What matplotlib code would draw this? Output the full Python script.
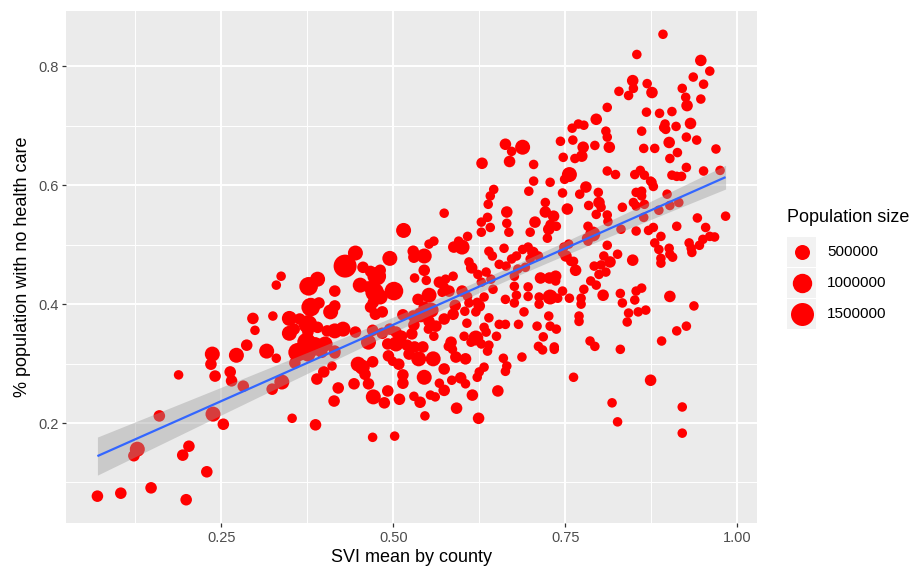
import numpy as np
import matplotlib
matplotlib.use("Agg")
import matplotlib.pyplot as plt
from matplotlib.patches import Rectangle

# SVI mean by county (x), share without health care (y), population in thousands
svi = [
    0.663, 0.672, 0.688, 0.669, 0.629, 0.892, 0.854, 0.947, 0.960, 0.848,
    0.869, 0.828, 0.849, 0.842, 0.876, 0.936, 0.951, 0.920, 0.925, 0.947,
    0.927, 0.811, 0.905, 0.868, 0.887, 0.795, 0.769, 0.777, 0.760, 0.895,
    0.893, 0.911, 0.932, 0.809, 0.861, 0.811, 0.896, 0.926, 0.743, 0.761,
    0.901, 0.941, 0.793, 0.776, 0.814, 0.864, 0.880, 0.969, 0.913, 0.774,
    0.747, 0.764, 0.902, 0.704, 0.926, 0.756, 0.811, 0.823, 0.851, 0.859,
    0.865, 0.905, 0.912, 0.919, 0.951, 0.975, 0.704, 0.728, 0.749, 0.874,
    0.337, 0.330, 0.296, 0.325, 0.299, 0.349, 0.349, 0.287, 0.316, 0.237,
    0.272, 0.235, 0.330, 0.188, 0.241, 0.263, 0.265, 0.282, 0.324, 0.338,
    0.357, 0.160, 0.238, 0.253, 0.353, 0.203, 0.194, 0.128, 0.123, 0.229,
    0.070, 0.104, 0.148, 0.199,
    0.387, 0.470, 0.502, 0.414, 0.420, 0.443, 0.471, 0.487, 0.464, 0.492,
    0.509, 0.530, 0.539, 0.546, 0.554, 0.561, 0.574, 0.592, 0.615, 0.624,
    0.652, 0.567, 0.585, 0.598, 0.605, 0.622, 0.625, 0.663, 0.665, 0.660,
    0.687, 0.632, 0.574, 0.545, 0.514, 0.514, 0.499, 0.455, 0.459, 0.389,
    0.399, 0.411,
    0.762, 0.874, 0.818, 0.920, 0.826, 0.920, 0.717, 0.734, 0.830,
    0.983, 0.942, 0.954, 0.950, 0.960, 0.967, 0.945, 0.930, 0.933, 0.934,
    0.912, 0.898, 0.902, 0.915, 0.878, 0.871, 0.889, 0.880, 0.886, 0.901,
    0.902, 0.906, 0.889, 0.889, 0.848, 0.861, 0.853, 0.851, 0.902, 0.937,
    0.867, 0.856, 0.842, 0.840, 0.926, 0.912, 0.890,
    0.833, 0.830, 0.805, 0.786, 0.793, 0.770, 0.770, 0.773, 0.773, 0.777,
    0.756, 0.746, 0.787, 0.795, 0.799, 0.809, 0.792, 0.802, 0.815, 0.806,
    0.826, 0.811, 0.765, 0.762, 0.758, 0.751, 0.746, 0.755, 0.748, 0.783,
    0.781, 0.790, 0.783, 0.812, 0.811, 0.831, 0.853, 0.864, 0.833, 0.849,
    0.853, 0.865, 0.886, 0.853, 0.861, 0.861, 0.876, 0.878, 0.798, 0.784,
    0.799, 0.802, 0.795, 0.771, 0.780, 0.746, 0.753, 0.721, 0.721, 0.733,
    0.737, 0.728, 0.706, 0.699, 0.724, 0.726,
    0.697, 0.696, 0.703, 0.711, 0.699, 0.692, 0.714, 0.727, 0.736, 0.736,
    0.696, 0.696, 0.712, 0.712, 0.728, 0.739, 0.726, 0.709, 0.728, 0.737,
    0.718, 0.711, 0.734,
    0.646, 0.641, 0.638, 0.665, 0.665, 0.668, 0.637, 0.628, 0.641, 0.628,
    0.574, 0.515, 0.559, 0.552, 0.595, 0.608, 0.588, 0.600, 0.529, 0.530,
    0.545, 0.639, 0.644, 0.661, 0.672, 0.679, 0.654, 0.664, 0.688, 0.610,
    0.614, 0.623, 0.635, 0.642, 0.676, 0.681, 0.445, 0.430, 0.456, 0.467,
    0.481, 0.495, 0.545, 0.531, 0.548, 0.587, 0.576, 0.567, 0.574, 0.571,
    0.581, 0.600, 0.628, 0.645, 0.632, 0.622, 0.610, 0.608, 0.676, 0.679,
    0.663, 0.676, 0.690, 0.552, 0.536, 0.545, 0.555, 0.540, 0.529, 0.552,
    0.562, 0.551, 0.574, 0.587, 0.590, 0.604, 0.620, 0.625, 0.607, 0.639,
    0.654, 0.663, 0.682, 0.632, 0.635, 0.650, 0.620, 0.613, 0.628, 0.639,
    0.603, 0.584, 0.580, 0.559, 0.527, 0.512, 0.514, 0.530, 0.504, 0.520,
    0.531, 0.543, 0.476, 0.501, 0.473, 0.452, 0.464, 0.481, 0.471, 0.484,
    0.474, 0.467, 0.415, 0.377, 0.390, 0.380, 0.392, 0.409, 0.415, 0.364,
    0.376, 0.376, 0.390, 0.404, 0.415, 0.427, 0.445, 0.374, 0.386, 0.401,
    0.415, 0.470, 0.484, 0.495, 0.504, 0.464, 0.492, 0.356,
    0.361, 0.376, 0.396, 0.415, 0.449, 0.470, 0.523, 0.537, 0.558, 0.591,
    0.605, 0.493, 0.508, 0.637, 0.586,
]

no_health_care = [
    0.669, 0.657, 0.664, 0.640, 0.637, 0.854, 0.820, 0.810, 0.792, 0.776,
    0.771, 0.758, 0.763, 0.751, 0.756, 0.782, 0.770, 0.763, 0.748, 0.745,
    0.734, 0.731, 0.724, 0.723, 0.721, 0.711, 0.703, 0.701, 0.696, 0.703,
    0.697, 0.699, 0.704, 0.691, 0.691, 0.681, 0.694, 0.681, 0.674, 0.676,
    0.672, 0.676, 0.667, 0.664, 0.664, 0.662, 0.662, 0.661, 0.655, 0.649,
    0.647, 0.645, 0.645, 0.635, 0.630, 0.618, 0.624, 0.618, 0.618, 0.625,
    0.617, 0.617, 0.615, 0.615, 0.624, 0.625, 0.607, 0.605, 0.610, 0.607,
    0.447, 0.432, 0.376, 0.380, 0.356, 0.376, 0.351, 0.331, 0.321, 0.316,
    0.314, 0.299, 0.309, 0.281, 0.279, 0.286, 0.271, 0.262, 0.257, 0.269,
    0.301, 0.212, 0.215, 0.198, 0.208, 0.161, 0.146, 0.156, 0.145, 0.118,
    0.077, 0.082, 0.091, 0.071,
    0.197, 0.176, 0.178, 0.237, 0.259, 0.266, 0.244, 0.234, 0.266, 0.254,
    0.240, 0.245, 0.235, 0.212, 0.247, 0.244, 0.255, 0.225, 0.247, 0.208,
    0.254, 0.267, 0.272, 0.276, 0.266, 0.277, 0.286, 0.287, 0.296, 0.309,
    0.311, 0.294, 0.291, 0.277, 0.267, 0.281, 0.304, 0.294, 0.282, 0.274,
    0.286, 0.296,
    0.277, 0.272, 0.234, 0.227, 0.202, 0.183, 0.323, 0.324, 0.324,
    0.548, 0.545, 0.529, 0.509, 0.514, 0.513, 0.499, 0.503, 0.494, 0.487,
    0.531, 0.585, 0.566, 0.571, 0.529, 0.524, 0.514, 0.503, 0.492, 0.494,
    0.484, 0.479, 0.477, 0.469, 0.474, 0.427, 0.422, 0.407, 0.413, 0.397,
    0.390, 0.387, 0.385, 0.370, 0.363, 0.355, 0.338,
    0.402, 0.418, 0.415, 0.338, 0.329, 0.380, 0.371, 0.410, 0.400, 0.425,
    0.410, 0.422, 0.439, 0.432, 0.450, 0.454, 0.464, 0.466, 0.471, 0.481,
    0.484, 0.499, 0.457, 0.472, 0.472, 0.481, 0.487, 0.501, 0.496, 0.506,
    0.511, 0.518, 0.531, 0.539, 0.550, 0.526, 0.523, 0.546, 0.563, 0.571,
    0.565, 0.568, 0.558, 0.588, 0.590, 0.582, 0.605, 0.598, 0.588, 0.566,
    0.571, 0.563, 0.551, 0.585, 0.597, 0.587, 0.560, 0.571, 0.555, 0.548,
    0.531, 0.534, 0.538, 0.521, 0.511, 0.526,
    0.590, 0.496, 0.487, 0.481, 0.476, 0.462, 0.444, 0.444, 0.447, 0.439,
    0.429, 0.413, 0.412, 0.400, 0.412, 0.410, 0.380, 0.363, 0.363, 0.358,
    0.345, 0.329, 0.328,
    0.593, 0.582, 0.568, 0.555, 0.536, 0.521, 0.546, 0.538, 0.529, 0.521,
    0.553, 0.524, 0.506, 0.501, 0.506, 0.514, 0.496, 0.496, 0.489, 0.479,
    0.481, 0.489, 0.481, 0.494, 0.476, 0.481, 0.467, 0.464, 0.492, 0.471,
    0.461, 0.450, 0.454, 0.442, 0.447, 0.459, 0.486, 0.464, 0.462, 0.455,
    0.457, 0.477, 0.457, 0.444, 0.440, 0.447, 0.442, 0.437, 0.429, 0.420,
    0.422, 0.422, 0.437, 0.425, 0.412, 0.403, 0.402, 0.413, 0.430, 0.415,
    0.408, 0.402, 0.387, 0.415, 0.408, 0.395, 0.390, 0.382, 0.380, 0.371,
    0.363, 0.358, 0.375, 0.383, 0.398, 0.388, 0.387, 0.397, 0.368, 0.377,
    0.366, 0.366, 0.366, 0.361, 0.353, 0.346, 0.343, 0.336, 0.333, 0.331,
    0.346, 0.336, 0.329, 0.346, 0.350, 0.346, 0.382, 0.365, 0.333, 0.331,
    0.328, 0.328, 0.447, 0.422, 0.420, 0.432, 0.429, 0.412, 0.403, 0.387,
    0.383, 0.395, 0.422, 0.430, 0.442, 0.395, 0.402, 0.387, 0.397, 0.375,
    0.366, 0.353, 0.361, 0.355, 0.355, 0.358, 0.353, 0.336, 0.329, 0.333,
    0.321, 0.356, 0.351, 0.358, 0.353, 0.336, 0.333, 0.358,
    0.319, 0.316, 0.319, 0.318, 0.299, 0.303, 0.316, 0.308, 0.308, 0.311,
    0.308, 0.313, 0.299, 0.321, 0.324,
]

pop_thousands = [
    200, 60, 500, 200, 200, 60, 60, 200, 60, 200,
    60, 60, 60, 60, 200, 60, 60, 60, 60, 60,
    200, 60, 60, 60, 60, 200, 60, 60, 60, 60,
    60, 60, 200, 60, 60, 60, 60, 60, 60, 60,
    200, 60, 60, 200, 200, 60, 60, 60, 60, 200,
    60, 60, 60, 60, 60, 500, 60, 60, 60, 60,
    60, 60, 60, 60, 60, 60, 60, 60, 60, 60,
    60, 60, 200, 60, 60, 500, 500, 200, 500, 500,
    500, 200, 60, 60, 200, 200, 200, 200, 200, 500,
    200, 200, 500, 200, 60, 200, 200, 500, 200, 200,
    200, 200, 200, 200,
    200, 60, 60, 200, 200, 200, 500, 200, 200, 200,
    200, 60, 200, 60, 60, 60, 200, 200, 200, 200,
    200, 60, 60, 200, 60, 60, 60, 60, 60, 60,
    60, 60, 200, 500, 200, 200, 60, 500, 200, 200,
    200, 60,
    60, 200, 60, 60, 60, 60, 60, 60, 60,
    60, 60, 60, 60, 60, 60, 60, 60, 60, 60,
    60, 60, 60, 60, 60, 60, 60, 60, 60, 60,
    60, 60, 60, 60, 200, 60, 60, 60, 200, 60,
    60, 60, 60, 60, 60, 60, 60,
    60, 60, 200, 60, 60, 60, 60, 60, 60, 60,
    60, 60, 60, 60, 60, 60, 60, 60, 200, 60,
    60, 60, 200, 60, 60, 200, 60, 60, 60, 60,
    60, 500, 60, 60, 60, 60, 60, 60, 60, 60,
    60, 60, 60, 60, 60, 60, 60, 60, 60, 60,
    200, 60, 60, 60, 200, 60, 200, 60, 200, 200,
    60, 60, 200, 60, 60, 200,
    60, 60, 200, 60, 60, 60, 200, 200, 200, 60,
    60, 60, 60, 60, 500, 60, 60, 60, 60, 60,
    60, 60, 60,
    60, 60, 60, 200, 60, 60, 60, 60, 60, 60,
    60, 500, 60, 60, 60, 60, 200, 500, 200, 200,
    500, 60, 60, 60, 60, 60, 60, 60, 60, 60,
    200, 60, 60, 60, 60, 60, 500, 1500, 200, 200,
    200, 500, 200, 60, 60, 60, 60, 200, 60, 60,
    200, 200, 60, 60, 60, 60, 60, 60, 60, 60,
    60, 60, 60, 500, 200, 200, 500, 500, 200, 200,
    200, 60, 200, 200, 200, 60, 60, 200, 60, 60,
    60, 60, 60, 60, 60, 60, 500, 60, 60, 60,
    60, 200, 60, 60, 200, 200, 200, 200, 500, 200,
    200, 200, 900, 900, 900, 500, 200, 500, 200, 200,
    200, 200, 200, 900, 500, 900, 200, 500, 200, 200,
    900, 200, 200, 200, 500, 500, 200, 900, 900, 500,
    200, 200, 200, 200, 200, 500, 200, 200,
    900, 500, 200, 200, 500, 200, 200, 500, 500, 200,
    200, 200, 200, 60, 60,
]

legend_pops = [500000, 1000000, 1500000]
legend_labels = ["500000", "1000000", "1500000"]

plt.rcParams["font.family"] = ["Liberation Sans", "DejaVu Sans"]


def marker_area(p):
    # area grows linearly with population, like ggplot's scale_size
    d_px = np.sqrt(73 + 304e-6 * np.asarray(p, dtype=float))
    return (d_px * 0.72) ** 2


x = np.array(svi)
y = np.array(no_health_care)
pop = np.array(pop_thousands) * 1000

fig = plt.figure(figsize=(9.21, 5.72), dpi=100)
ax = fig.add_axes([66 / 921, 1 - 523 / 572, (757 - 66) / 921, (523 - 11) / 572])
ax.set_facecolor("#EBEBEB")
for sp in ax.spines.values():
    sp.set_visible(False)

ax.scatter(x, y, s=marker_area(pop), color="#FF0000", linewidths=0, zorder=2)

# linear fit with 95% confidence band (geom_smooth(method = "lm"))
slope, intercept = np.polyfit(x, y, 1)
xs = np.linspace(x.min(), x.max(), 100)
fit = intercept + slope * xs
resid = y - (intercept + slope * x)
n = len(x)
s_err = np.sqrt(np.sum(resid ** 2) / (n - 2))
sxx = np.sum((x - x.mean()) ** 2)
se = s_err * np.sqrt(1 / n + (xs - x.mean()) ** 2 / sxx)
t_val = 1.966
ax.fill_between(xs, fit - t_val * se, fit + t_val * se, color="#999999",
                alpha=0.4, linewidth=0, zorder=3)
ax.plot(xs, fit, color="#3366FF", lw=1.6, zorder=4, solid_capstyle="butt")

xr = x.max() - x.min()
yr = y.max() - y.min()
ax.set_xlim(x.min() - 0.05 * xr, x.max() + 0.05 * xr)
ax.set_ylim(y.min() - 0.05 * yr, y.max() + 0.05 * yr)

ax.set_xticks([0.25, 0.5, 0.75, 1.0])
ax.set_xticklabels(["0.25", "0.50", "0.75", "1.00"])
ax.set_xticks([0.125, 0.375, 0.625, 0.875], minor=True)
ax.set_yticks([0.2, 0.4, 0.6, 0.8])
ax.set_yticklabels(["0.2", "0.4", "0.6", "0.8"])
ax.set_yticks([0.1, 0.3, 0.5, 0.7], minor=True)
ax.set_axisbelow(True)
ax.grid(which="major", color="white", lw=1.4)
ax.grid(which="minor", color="white", lw=0.7)
ax.tick_params(which="major", length=3, width=0.9, color="#333333",
               labelcolor="#4D4D4D", labelsize=10.5, pad=2.5)
ax.tick_params(which="minor", length=0)

ax.set_xlabel("SVI mean by county", fontsize=13, labelpad=3)
ax.set_ylabel("% population with no health care", fontsize=13, labelpad=5)

# legend drawn in pixel coordinates on an overlay
lax = fig.add_axes([0, 0, 1, 1], facecolor="none")
lax.set_xlim(0, 921)
lax.set_ylim(572, 0)
lax.axis("off")
lax.text(787, 217, "Population size", fontsize=13, va="center", ha="left")
key_y = [252, 283, 314]
for ky, p, lab in zip(key_y, legend_pops, legend_labels):
    lax.add_patch(Rectangle((787, ky - 15), 29, 30, facecolor="#F2F2F2",
                            edgecolor="none"))
    lax.scatter([801.5], [ky], s=marker_area(p), color="#FF0000", linewidths=0)
    lax.text(827, ky, lab, fontsize=11, va="center", ha="left")

fig.savefig("out.png", dpi=100)
